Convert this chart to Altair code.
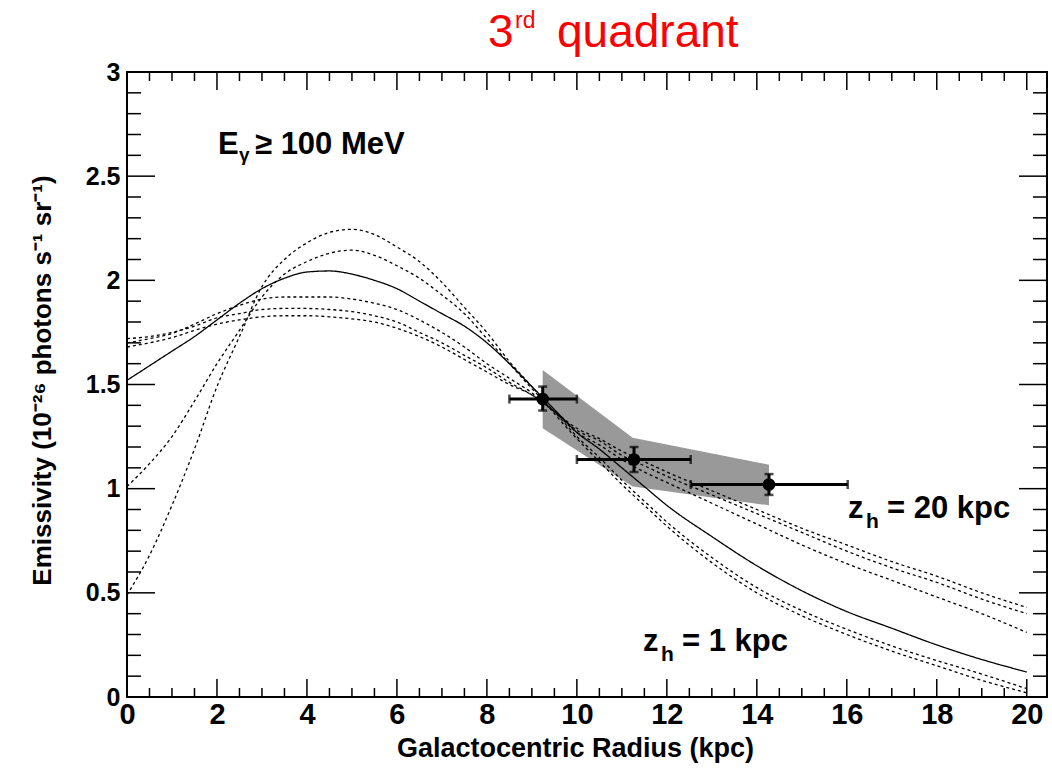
import altair as alt
import pandas as pd

# ---------------- data ----------------
radius = [0, 0.5, 1, 1.5, 2, 2.5, 3, 3.5, 4, 4.5, 5, 5.5, 6, 6.5, 7, 7.5, 8, 8.5, 9, 9.5,
          10, 10.5, 11, 11.5, 12, 13, 14, 15, 16, 17, 18, 19, 20]

model_solid = [1.52, 1.59, 1.66, 1.73, 1.81, 1.89, 1.96, 2.01, 2.04, 2.045, 2.03, 2.00, 1.96, 1.90,
               1.84, 1.78, 1.70, 1.60, 1.49, 1.38, 1.27, 1.19, 1.10, 1.01, 0.92, 0.77, 0.63, 0.51,
               0.41, 0.33, 0.25, 0.18, 0.12]
model_zh1 = [0.49, 0.68, 0.92, 1.19, 1.49, 1.73, 1.97, 2.10, 2.18, 2.23, 2.245, 2.22, 2.16, 2.09,
             1.99, 1.87, 1.75, 1.61, 1.49, 1.36, 1.24, 1.13, 1.02, 0.92, 0.82, 0.645, 0.50, 0.39,
             0.30, 0.22, 0.15, 0.08, 0.02]
model_zh2 = [1.01, 1.12, 1.25, 1.42, 1.60, 1.76, 1.92, 2.03, 2.09, 2.13, 2.145, 2.12, 2.07, 2.01,
             1.93, 1.84, 1.72, 1.60, 1.48, 1.37, 1.25, 1.15, 1.04, 0.94, 0.84, 0.67, 0.525, 0.415,
             0.325, 0.245, 0.175, 0.11, 0.04]
model_zh10 = [1.70, 1.72, 1.745, 1.79, 1.84, 1.88, 1.91, 1.92, 1.92, 1.92, 1.91, 1.89, 1.86, 1.81,
              1.75, 1.68, 1.60, 1.53, 1.46, 1.37, 1.27, 1.21, 1.14, 1.08, 1.03, 0.93, 0.83, 0.73,
              0.64, 0.56, 0.48, 0.40, 0.31]
model_zh15 = [1.72, 1.73, 1.75, 1.78, 1.82, 1.84, 1.86, 1.865, 1.865, 1.86, 1.85, 1.83, 1.80, 1.75,
              1.70, 1.64, 1.58, 1.51, 1.45, 1.37, 1.28, 1.23, 1.16, 1.11, 1.06, 0.97, 0.88, 0.79,
              0.70, 0.62, 0.55, 0.47, 0.40]
model_zh20 = [1.68, 1.70, 1.725, 1.76, 1.79, 1.81, 1.825, 1.83, 1.83, 1.825, 1.815, 1.80, 1.77, 1.73,
              1.68, 1.62, 1.56, 1.50, 1.45, 1.37, 1.29, 1.24, 1.18, 1.13, 1.08, 0.99, 0.90, 0.81,
              0.73, 0.65, 0.58, 0.50, 0.43]

band_r = [9.24, 11.24, 14.27]
band_hi = [1.57, 1.245, 1.115]
band_lo = [1.29, 1.01, 0.92]

pt_r = [9.24, 11.27, 14.27]
pt_e = [1.43, 1.14, 1.02]
pt_rlo = [8.5, 10.0, 12.53]
pt_rhi = [10.0, 12.53, 16.02]
pt_elo = [1.375, 1.08, 0.97]
pt_ehi = [1.49, 1.20, 1.07]

x_major = [0, 2, 4, 6, 8, 10, 12, 14, 16, 18, 20]
x_minor = [v / 2 for v in range(1, 41) if v % 4 != 0]
y_major = [0, 0.5, 1, 1.5, 2, 2.5, 3]
y_minor = [v / 10 for v in range(1, 30) if v % 5 != 0]

# ---------------- layout ----------------
W, H = 920, 625
XDOM = [0, 20.45]
YDOM = [0, 3]
FONT = "Liberation Sans"

xs = alt.Scale(domain=XDOM, nice=False, zero=False)
ys = alt.Scale(domain=YDOM, nice=False, zero=False)

curves = []
for name, vals, dash in [("solid", model_solid, False), ("zh1", model_zh1, True),
                         ("zh2", model_zh2, True), ("zh10", model_zh10, True),
                         ("zh15", model_zh15, True), ("zh20", model_zh20, True)]:
    for r, v in zip(radius, vals):
        curves.append({"r": r, "e": v, "model": name, "dash": "d" if dash else "s"})
curve_df = pd.DataFrame(curves)

band_df = pd.DataFrame({"r": band_r, "hi": band_hi, "lo": band_lo})
pt_df = pd.DataFrame({"r": pt_r, "e": pt_e, "rlo": pt_rlo, "rhi": pt_rhi,
                      "elo": pt_elo, "ehi": pt_ehi})

xaxis = alt.Axis(values=x_major, ticks=False, domain=False, grid=False, format="~g",
                 labelFont=FONT, labelFontWeight="bold", labelFontSize=29,
                 labelColor="black", labelPadding=3, labelFlush=False,
                 title="Galactocentric Radius (kpc)", titleFont=FONT, titleFontWeight="bold",
                 titleFontSize=27, titleColor="black", titlePadding=6, titleX=448)
yaxis = alt.Axis(values=y_major, ticks=False, domain=False, grid=False, format="~g",
                 labelFont=FONT, labelFontWeight="bold", labelFontSize=25,
                 labelColor="black", labelPadding=7, labelFlush=False,
                 title="Emissivity (10\u207b\u00b2\u2076 photons s\u207b\u00b9 sr\u207b\u00b9)",
                 titleFont=FONT, titleFontWeight="bold", titleFontSize=26,
                 titleColor="black", titlePadding=30, titleY=308)

band = alt.Chart(band_df).mark_area(color="#999999", opacity=1).encode(
    x=alt.X("r:Q", scale=xs, axis=xaxis),
    y=alt.Y("hi:Q", scale=ys, axis=yaxis),
    y2="lo:Q",
)

lines = alt.Chart(curve_df).mark_line(color="black", strokeWidth=1.3, interpolate="monotone").encode(
    x=alt.X("r:Q", scale=xs),
    y=alt.Y("e:Q", scale=ys),
    detail="model:N",
    strokeDash=alt.StrokeDash("dash:N", scale=alt.Scale(domain=["s", "d"], range=[[1, 0], [3, 3]]),
                              legend=None),
)

xerr = alt.Chart(pt_df).mark_rule(color="black", strokeWidth=3).encode(
    x=alt.X("rlo:Q", scale=xs), x2="rhi:Q", y=alt.Y("e:Q", scale=ys))
yerr = alt.Chart(pt_df).mark_rule(color="black", strokeWidth=3).encode(
    x=alt.X("r:Q", scale=xs), y=alt.Y("elo:Q", scale=ys), y2="ehi:Q")
xcap_lo = alt.Chart(pt_df).mark_tick(color="black", orient="vertical", size=9, thickness=2.5).encode(
    x=alt.X("rlo:Q", scale=xs), y=alt.Y("e:Q", scale=ys))
xcap_hi = alt.Chart(pt_df).mark_tick(color="black", orient="vertical", size=9, thickness=2.5).encode(
    x=alt.X("rhi:Q", scale=xs), y=alt.Y("e:Q", scale=ys))
ycap_lo = alt.Chart(pt_df).mark_tick(color="black", orient="horizontal", size=9, thickness=2.5).encode(
    x=alt.X("r:Q", scale=xs), y=alt.Y("elo:Q", scale=ys))
ycap_hi = alt.Chart(pt_df).mark_tick(color="black", orient="horizontal", size=9, thickness=2.5).encode(
    x=alt.X("r:Q", scale=xs), y=alt.Y("ehi:Q", scale=ys))
points = alt.Chart(pt_df).mark_point(filled=True, color="black", size=160, opacity=1, shape="circle").encode(
    x=alt.X("r:Q", scale=xs), y=alt.Y("e:Q", scale=ys))

# ---------------- frame ticks (inward, ROOT style) ----------------
def xticks(vals, length):
    d = pd.DataFrame({"t": vals})
    b = alt.Chart(d).mark_rule(color="black", strokeWidth=1.5).encode(
        x=alt.X("t:Q", scale=xs), y=alt.value(H), y2=alt.value(H - length))
    t = alt.Chart(d).mark_rule(color="black", strokeWidth=1.5).encode(
        x=alt.X("t:Q", scale=xs), y=alt.value(0), y2=alt.value(length))
    return [b, t]

def yticks(vals, length):
    d = pd.DataFrame({"t": vals})
    l = alt.Chart(d).mark_rule(color="black", strokeWidth=1.5).encode(
        y=alt.Y("t:Q", scale=ys), x=alt.value(0), x2=alt.value(length))
    r = alt.Chart(d).mark_rule(color="black", strokeWidth=1.5).encode(
        y=alt.Y("t:Q", scale=ys), x=alt.value(W), x2=alt.value(W - length))
    return [l, r]

ticks = xticks(x_major, 18) + xticks(x_minor, 9) + yticks(y_major, 28) + yticks(y_minor, 14)

# ---------------- annotations ----------------
def txt(s, x, y, size, weight="bold", color="black", font=FONT):
    return alt.Chart(pd.DataFrame({"s": [s]})).mark_text(
        align="left", baseline="alphabetic", fontSize=size, fontWeight=weight,
        font=font, color=color).encode(x=alt.value(x), y=alt.value(y), text="s:N")

notes = [
    txt("3", 361, -25, 46, "normal", "#ff0000"),
    txt("rd", 388, -44, 23, "normal", "#ff0000"),
    txt("quadrant", 430, -25, 46, "normal", "#ff0000"),
    txt("E", 91, 82, 31),
    txt("\u03b3", 112, 89, 19),
    txt("\u2265 100 MeV", 128, 82, 31),
    txt("z", 721, 446, 31),
    txt("h", 739, 456, 21),
    txt("= 20 kpc", 760, 446, 31),
    txt("z", 516, 579, 31),
    txt("h", 534, 589, 21),
    txt("= 1 kpc", 555, 579, 31),
]

chart = alt.layer(band, lines, xerr, yerr, xcap_lo, xcap_hi, ycap_lo, ycap_hi, points,
                  *ticks, *notes).properties(
    width=W, height=H,
    autosize=alt.AutoSizeParams(type="none"),
    padding={"left": 127, "top": 72, "right": 5, "bottom": 71},
    background="white",
).configure_view(stroke="black", strokeWidth=2)

chart.save("out.html", embed_options={"renderer": "svg", "actions": False})
